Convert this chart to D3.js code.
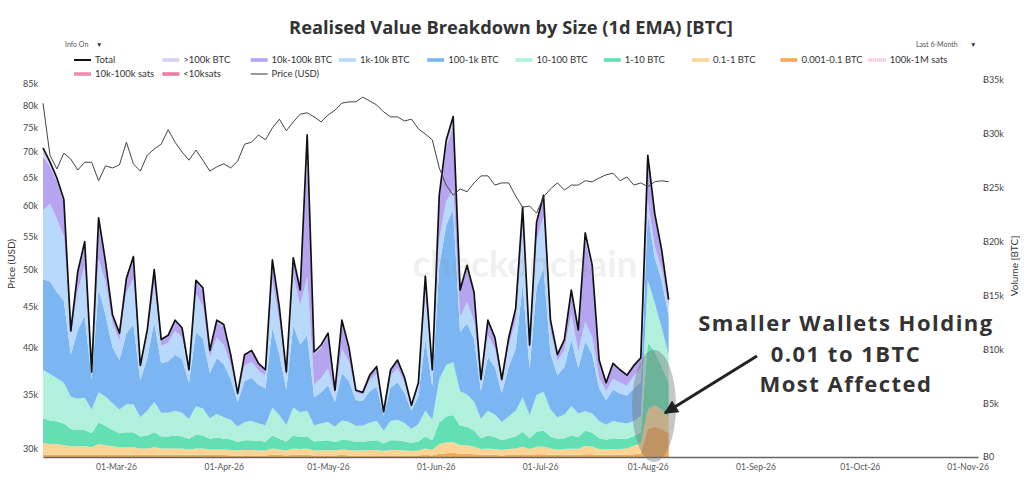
<!DOCTYPE html>
<html>
<head>
<meta charset="utf-8">
<script src="https://cdn.jsdelivr.net/npm/d3@7"></script>
<style>
  body { margin: 0; background: #fff; }
  svg { display: block; font-family: Lato, "Noto Sans", sans-serif; }
</style>
</head>
<body>
<svg id="chart" width="1024" height="497"></svg>
<script>
// one point every 2 days from 08-Feb-26, volumes in thousands of BTC, price in thousands of USD
const startDate = new Date(2026, 1, 8)
const stepDays = 2

const total = [28.7,27.4,25.9,23.9,11.7,17.2,20.0,7.9,22.2,18.1,
  13.2,11.5,16.6,18.6,8.5,11.8,17.4,10.9,11.3,12.7,
  12.0,8.1,16.4,15.7,9.9,12.7,12.3,9.5,5.9,9.5,
  9.9,8.7,8.1,18.3,13.9,7.9,18.5,15.5,29.9,9.75,
  10.4,11.5,6.2,12.7,10.2,6.2,6.0,7.6,8.4,4.2,
  8.1,9.0,7.4,4.8,6.9,16.8,8.1,24.3,29.4,31.6,
  15.5,17.8,15.3,7.2,12.7,11.1,7.2,11.1,13.8,23.2,
  10.4,21.8,24.3,12.7,9.5,10.9,15.5,11.8,20.8,17.8,
  9.0,6.9,8.7,8.1,7.6,8.5,9.2,28.0,22.6,19.2,
  14.6]

const btc0001to01 = [.2,.2,.2,.2,.2,.2,.2,.2,.2,.2,
  .2,.2,.2,.2,.2,.2,.2,.2,.2,.2,
  .2,.2,.2,.2,.2,.2,.2,.15,.15,.15,
  .15,.15,.15,.2,.2,.15,.2,.2,.2,.15,
  .15,.15,.15,.2,.15,.15,.15,.15,.15,.15,
  .15,.15,.15,.15,.15,.2,.15,.3,.35,.4,
  .3,.3,.25,.2,.2,.2,.15,.2,.2,.25,
  .2,.25,.25,.2,.2,.2,.2,.2,.25,.25,
  .2,.2,.2,.2,.2,.25,.3,2.6,2.8,2.6,
  2.2]

const btc01to1 = [1.1,1.0,1.0,.9,.8,.8,.8,.7,1.0,.9,
  .8,.7,.7,.7,.6,.6,.7,.6,.6,.6,
  .6,.5,.6,.6,.5,.5,.5,.5,.45,.5,
  .5,.45,.45,.6,.5,.45,.6,.55,.6,.45,
  .45,.5,.45,.5,.5,.45,.45,.5,.5,.4,
  .5,.5,.45,.4,.45,.6,.5,.9,1.0,1.0,
  .8,.8,.7,.55,.6,.55,.5,.55,.6,.7,
  .55,.7,.7,.6,.5,.55,.6,.55,.8,.7,
  .55,.5,.55,.55,.6,.8,1.0,1.8,2.0,1.8,
  1.5]

const btc1to10 = [2.3,2.2,2.1,2.0,1.6,1.5,1.5,1.3,2.0,1.8,
  1.5,1.3,1.4,1.4,1.1,1.2,1.4,1.1,1.1,1.2,
  1.1,1.0,1.3,1.2,1.0,1.1,1.0,1.0,.8,.9,
  .9,.9,.85,1.2,1.0,.85,1.2,1.1,1.1,.85,
  .9,.9,.8,.9,.9,.8,.8,.85,.9,.7,
  .9,.9,.85,.75,.85,1.1,.9,2.0,2.4,2.5,
  1.8,1.7,1.5,1.0,1.2,1.1,.9,1.0,1.1,1.4,
  1.0,1.4,1.5,1.1,1.0,1.0,1.2,1.1,1.4,1.3,
  1.0,.9,1.0,.95,.9,.9,1.0,6.2,5.0,4.0,
  3.2]

const btc10to100 = [4.5,4.3,4.0,3.8,3.0,2.9,3.0,2.2,2.8,2.7,
  2.5,2.2,2.6,2.6,1.8,2.3,2.8,2.2,2.2,2.3,
  2.2,1.8,2.6,2.5,1.9,2.2,2.0,1.8,1.4,1.7,
  1.8,1.6,1.5,2.6,2.2,1.5,2.6,2.3,2.4,1.5,
  1.6,1.7,1.4,1.8,1.7,1.5,1.5,1.7,1.8,1.2,
  1.8,1.9,1.7,1.3,1.6,2.4,1.9,4.0,4.8,4.9,
  3.2,3.0,2.7,1.8,2.3,2.1,1.7,2.0,2.4,3.2,
  2.1,3.4,3.6,2.5,2.0,2.2,2.7,2.2,1.8,1.8,
  1.6,1.4,1.6,1.5,1.4,1.4,1.5,5.8,4.5,3.6,
  2.6]

const btc100to1k = [8.4,8.6,8.0,7.6,3.9,6.4,7.6,2.8,9.6,7.6,
  5.2,4.6,6.6,7.4,3.4,4.9,7.4,4.6,4.8,5.2,
  5.0,3.4,6.9,6.5,4.2,5.2,4.9,3.8,2.3,3.8,
  4.0,3.6,3.4,7.4,5.6,3.3,7.6,6.3,7.0,2.6,
  2.9,3.4,2.3,4.4,3.8,2.4,2.3,2.9,3.2,1.4,
  3.1,3.5,2.8,1.7,2.6,6.6,3.1,10.5,13.0,14.2,
  5.5,6.6,5.8,2.6,5.0,4.4,2.7,4.6,5.8,10.5,
  4.3,10.0,11.5,5.2,3.9,4.4,6.2,4.2,6.5,5.5,
  3.0,2.3,2.9,2.7,2.6,3.0,3.2,6.2,4.2,4.4,
  3.6]

const btc1kto10k = [6.4,7.2,6.8,6.0,1.6,3.6,4.6,.7,2.8,3.0,
  2.2,1.8,3.8,4.2,1.2,2.0,3.4,1.6,1.7,2.2,
  2.0,1.0,3.6,3.0,1.4,1.9,1.8,1.3,.6,1.4,
  1.5,1.3,1.2,4.4,3.0,1.1,4.6,3.6,5.4,1.2,
  1.3,1.6,.6,2.2,1.8,.7,.6,1.0,1.2,.3,
  1.1,1.3,.95,.4,.85,4.2,1.0,2.5,2.2,1.8,
  1.4,2.0,1.7,.7,2.0,1.7,.85,1.9,2.6,5.2,
  1.6,4.3,4.8,2.1,1.3,1.6,2.4,1.5,1.8,1.6,
  1.0,.8,1.0,1.0,.9,1.2,1.2,1.2,1.0,1.0,
  .8]

const btc10kto100k = [5.0,3.5,3.5,3.1,.6,1.6,2.1,0,3.4,1.7,
  .7,.6,1.2,1.9,.2,.6,1.3,.6,.7,1.0,
  .9,.2,1.0,1.5,.7,1.4,1.7,.9,.2,1.0,
  1.05,.7,.55,1.7,1.2,.55,1.5,1.3,11.0,2.8,
  2.9,3.0,.5,2.5,1.25,.2,.2,.5,.65,.05,
  .55,.75,.5,.1,.4,1.5,.55,3.7,5.0,6.0,
  2.5,3.2,2.5,.35,1.4,1.05,.35,.85,1.1,1.7,
  .65,1.5,1.7,1.0,.6,.95,2.0,2.05,7.6,6.2,
  1.65,.8,1.45,1.2,1.0,.95,1.0,3.8,2.8,1.6,
  .6]

const btcOver100k = [.8,.4,.3,.3,0,.2,.2,0,.4,.2,
  .1,.1,.1,.2,0,0,.2,0,0,0,
  0,0,.2,.2,0,.2,.2,0,0,.05,
  0,0,0,.2,.2,0,.2,.15,2.2,.2,
  .2,.25,0,.2,.1,0,0,0,0,0,
  0,0,0,0,0,.2,0,.4,.65,.8,
  0,.2,.15,0,0,0,0,0,0,.25,
  0,.25,.25,0,0,0,.2,0,.65,.45,
  0,0,0,0,0,0,0,.4,.3,.2,
  .1]

const priceUSDk = [80.5,69.4,66.7,69.8,68.6,66.5,68.0,68.0,64.5,67.3,
  66.9,67.5,72.0,67.7,66.3,69.4,70.6,71.6,74.6,72.0,
  70.0,68.4,70.4,68.4,66.3,67.1,67.7,66.9,68.2,71.6,
  72.0,73.5,72.5,75.0,76.9,74.4,76.3,78.0,78.3,77.4,
  76.3,77.8,78.9,80.5,80.8,80.8,81.9,81.0,80.1,78.5,
  77.4,77.4,76.5,76.9,74.8,73.7,72.5,66.9,63.7,61.9,
  63.0,62.5,64.1,65.4,65.4,63.7,64.1,64.1,61.7,59.8,
  60.0,58.8,61.6,63.0,64.1,62.8,63.7,63.7,64.5,64.3,
  65.0,65.6,65.9,64.5,65.2,63.7,64.1,63.4,64.3,64.5,
  64.3]

const priceTicks = [30, 35, 40, 45, 50, 55, 60, 65, 70, 75, 80, 85]
const volumeTicks = [0, 5, 10, 15, 20, 25, 30, 35]

// stack order, bottom to top
const layerKeys = ["0.001-0.1 BTC", "0.1-1 BTC", "1-10 BTC", "10-100 BTC", "100-1k BTC", "1k-10k BTC", "10k-100k BTC", ">100k BTC"]
const layerValues = [btc0001to01, btc01to1, btc1to10, btc10to100, btc100to1k, btc1kto10k, btc10kto100k, btcOver100k]
const layerColors = ["#f5a855", "#fcd596", "#62e0b3", "#b0f0dc", "#7cb6f2", "#b8d9fa", "#b6a4f1", "#d8cff7"]

const legendRow1 = ["Total", ">100k BTC", "10k-100k BTC", "1k-10k BTC", "100-1k BTC", "10-100 BTC", "1-10 BTC", "0.1-1 BTC", "0.001-0.1 BTC", "100k-1M sats"]
const legendRow2 = ["10k-100k sats", "<10ksats", "Price (USD)"]
const legendColors = {
  "Total": "#111", ">100k BTC": "#d8cff7", "10k-100k BTC": "#b6a4f1", "1k-10k BTC": "#b8d9fa",
  "100-1k BTC": "#7cb6f2", "10-100 BTC": "#b0f0dc", "1-10 BTC": "#62e0b3", "0.1-1 BTC": "#fcd596",
  "0.001-0.1 BTC": "#f5a855", "100k-1M sats": "#f4a6d6", "10k-100k sats": "#f08cb4", "<10ksats": "#ee7ba4",
  "Price (USD)": "#555"
}

const dates = total.map((d, i) => d3.timeDay.offset(startDate, i * stepDays))
const rows = dates.map((date, i) => {
  const r = { date: date }
  layerKeys.forEach((k, j) => r[k] = layerValues[j][i])
  return r
})

const plotLeft = 43, plotRight = 978, plotTop = 80, plotBottom = 457

const svg = d3.select("#chart")

const x = d3.scaleTime()
  .domain([new Date(2026, 1, 8), new Date(2026, 10, 4)])
  .range([plotLeft, plotRight])
const yVol = d3.scaleLinear().domain([0, 35]).range([plotBottom, plotTop])
const yPrice = d3.scaleLog().domain([29.3, 86]).range([plotBottom, plotTop])

// title
svg.append("text")
  .attr("x", 511).attr("y", 34)
  .attr("text-anchor", "middle")
  .style("font-family", "'Open Sans', sans-serif")
  .style("font-size", "18.3px").style("font-weight", "bold")
  .attr("fill", "#333")
  .text("Realised Value Breakdown by Size (1d EMA) [BTC]")

svg.append("text").attr("x", 65).attr("y", 47)
  .style("font-size", "7px").attr("fill", "#555").text("Info On")
svg.append("text").attr("x", 96).attr("y", 47)
  .style("font-size", "6.5px").attr("fill", "#333").text("▼")
svg.append("text").attr("x", 916).attr("y", 47)
  .style("font-size", "7px").attr("fill", "#555").text("Last 6-Month")
svg.append("text").attr("x", 970).attr("y", 47)
  .style("font-size", "6.5px").attr("fill", "#333").text("▼")

// legend
function legendItem(name, lx, ly) {
  const g = svg.append("g").attr("transform", "translate(" + lx + "," + ly + ")")
  if (name === "Total" || name === "Price (USD)") {
    g.append("line").attr("x1", 0).attr("x2", 17).attr("y1", 0).attr("y2", 0)
      .attr("stroke", legendColors[name]).attr("stroke-width", name === "Total" ? 2 : 1.2)
  } else if (name === "100k-1M sats") {
    g.append("line").attr("x1", 0).attr("x2", 17).attr("y1", 0).attr("y2", 0)
      .attr("stroke", legendColors[name]).attr("stroke-width", 3.5).attr("stroke-dasharray", "1,1")
  } else {
    g.append("rect").attr("x", 0).attr("y", -1.8).attr("width", 17).attr("height", 3.6)
      .attr("fill", legendColors[name])
  }
  g.append("text").attr("x", 21).attr("y", 3.3)
    .style("font-size", "9.5px").attr("fill", "#333").text(name)
}
legendRow1.forEach((n, i) => legendItem(n, 74 + i * 88.3, 60))
legendRow2.forEach((n, i) => legendItem(n, 74 + i * 88.3, 74))

// stacked areas
const stack = d3.stack().keys(layerKeys)
const series = stack(rows)
const area = d3.area()
  .x(d => x(d.data.date))
  .y0(d => yVol(d[0]))
  .y1(d => yVol(d[1]))

svg.append("g").selectAll("path")
  .data(series)
  .join("path")
  .attr("fill", (d, i) => layerColors[i])
  .attr("d", area)

// total line
svg.append("path")
  .datum(total)
  .attr("fill", "none")
  .attr("stroke", "#111")
  .attr("stroke-width", 1.7)
  .attr("stroke-linejoin", "round")
  .attr("d", d3.line().x((d, i) => x(dates[i])).y(d => yVol(d)))

// price line
svg.append("path")
  .datum(priceUSDk)
  .attr("fill", "none")
  .attr("stroke", "#444")
  .attr("stroke-width", 1)
  .attr("d", d3.line().x((d, i) => x(dates[i])).y(d => yPrice(d)))

// watermark
svg.append("text")
  .attr("x", 525).attr("y", 277)
  .attr("text-anchor", "middle")
  .style("font-size", "37px").style("font-weight", "bold")
  .attr("fill", "#888").attr("opacity", 0.12)
  .text("checkonchain")

// axes
const xAxis = svg.append("g")
  .attr("transform", "translate(0," + plotBottom + ")")
  .call(d3.axisBottom(x)
    .tickValues(d3.timeMonth.range(new Date(2026, 2, 1), new Date(2026, 10, 2)))
    .tickFormat(d3.timeFormat("%d-%b-%y"))
    .tickSize(0).tickPadding(7))
xAxis.select(".domain").attr("stroke", "#666").attr("stroke-width", 1.6)
xAxis.selectAll("text").style("font-size", "8.5px").attr("fill", "#555").style("font-family", "Lato, sans-serif")

const yLeft = svg.append("g")
  .attr("transform", "translate(" + plotLeft + ",0)")
  .call(d3.axisLeft(yPrice).tickValues(priceTicks).tickFormat(d => d + "k").tickSize(0).tickPadding(5))
yLeft.select(".domain").remove()
yLeft.selectAll("text").style("font-size", "9px").attr("fill", "#444").style("font-family", "Lato, sans-serif")

const yRight = svg.append("g")
  .attr("transform", "translate(" + plotRight + ",0)")
  .call(d3.axisRight(yVol).tickValues(volumeTicks).tickFormat(d => "Ƀ" + (d ? d + "k" : "0")).tickSize(0).tickPadding(5))
yRight.select(".domain").remove()
yRight.selectAll("text").style("font-size", "9px").attr("fill", "#444").style("font-family", "Lato, sans-serif")

svg.append("text")
  .attr("transform", "translate(15,264) rotate(-90)")
  .attr("text-anchor", "middle")
  .style("font-size", "10px").attr("fill", "#333")
  .text("Price (USD)")
svg.append("text")
  .attr("transform", "translate(1018,266) rotate(-90)")
  .attr("text-anchor", "middle")
  .style("font-size", "10px").attr("fill", "#333")
  .text("Volume [BTC]")

// annotation
svg.append("ellipse")
  .attr("cx", 654).attr("cy", 406).attr("rx", 22).attr("ry", 56)
  .attr("fill", "#777").attr("opacity", 0.42)

svg.append("defs").append("marker")
  .attr("id", "head")
  .attr("viewBox", "0 0 10 10")
  .attr("refX", 9).attr("refY", 5)
  .attr("markerWidth", 16).attr("markerHeight", 14)
  .attr("markerUnits", "userSpaceOnUse")
  .attr("orient", "auto")
  .append("path").attr("d", "M0,0 L10,5 L0,10 z").attr("fill", "#222")

svg.append("line")
  .attr("x1", 757).attr("y1", 356).attr("x2", 665).attr("y2", 413)
  .attr("stroke", "#222").attr("stroke-width", 3)
  .attr("marker-end", "url(#head)")

const note = ["Smaller Wallets Holding", "0.01 to 1BTC", "Most Affected"]
const noteY = [331, 362, 392]
note.forEach((t, i) => {
  svg.append("text")
    .attr("x", 846).attr("y", noteY[i])
    .attr("text-anchor", "middle")
    .style("font-family", "'Open Sans', sans-serif")
    .style("font-size", "22px").style("font-weight", "bold")
    .style("letter-spacing", "1.5px")
    .attr("fill", "#333")
    .text(t)
})
</script>
</body>
</html>
